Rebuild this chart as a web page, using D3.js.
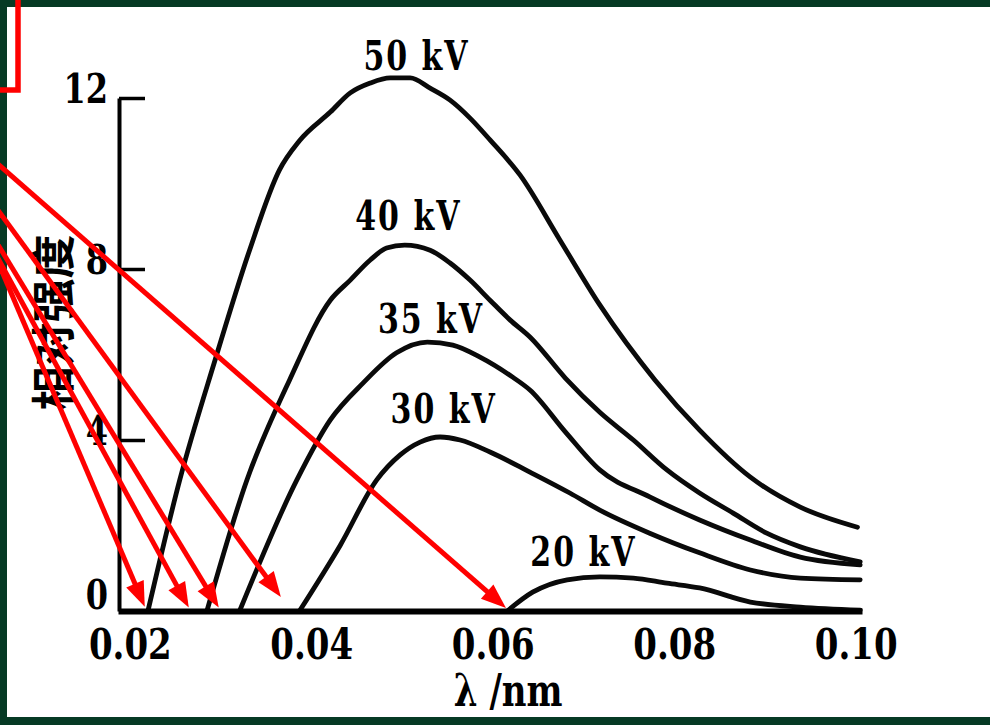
<!DOCTYPE html>
<html><head><meta charset="utf-8">
<script src="https://cdn.jsdelivr.net/npm/d3@7"></script>
<style>html,body{margin:0;padding:0;background:#fff;} svg{display:block;}</style>
</head><body><svg id="chart" width="990" height="725"></svg>
<script>
// ---- data (wavelength in nm, relative intensity) ----
const kvLabels = ["50 kV","40 kV","35 kV","30 kV","20 kV"];
const lam50 = [0.0220,0.0255,0.0294,0.0332,0.0365,0.0387,0.0421,0.0443,0.0465,0.0487,0.0509,0.0531,0.0553,0.0575,0.0597,0.0630,0.0674,0.0718,0.0779,0.0828,0.0884,0.0939,0.1002];
const int50 = [0,3.06,5.87,8.44,10.32,11.00,11.67,12.12,12.35,12.47,12.47,12.23,11.95,11.53,11.02,10.20,8.68,7.16,5.40,4.23,3.13,2.43,1.96];
const lam40 = [0.0285,0.0329,0.0376,0.0421,0.0443,0.0465,0.0483,0.0503,0.0531,0.0553,0.0575,0.0597,0.0619,0.0641,0.0680,0.0718,0.0755,0.0792,0.0828,0.0865,0.0902,0.0939,0.1005];
const int40 = [0,3.06,5.40,7.27,7.74,8.21,8.49,8.56,8.44,8.14,7.74,7.27,6.81,6.41,5.45,4.65,4.00,3.30,2.76,2.29,1.82,1.50,1.15];
const lam35 = [0.0321,0.0384,0.0421,0.0457,0.0494,0.0528,0.0556,0.0586,0.0622,0.0641,0.0680,0.0718,0.0773,0.0828,0.0884,0.0939,0.1005];
const int35 = [0,3.06,4.47,5.33,6.04,6.29,6.22,5.94,5.47,5.17,4.19,3.30,2.67,2.13,1.66,1.26,1.08];
const lam30 = [0.0387,0.0432,0.0472,0.0498,0.0520,0.0542,0.0564,0.0597,0.0641,0.0685,0.0718,0.0773,0.0828,0.0884,0.0939,0.1005];
const int30 = [0,1.54,3.06,3.65,3.95,4.07,4.00,3.72,3.25,2.76,2.36,1.82,1.36,0.96,0.77,0.73];
const lam20 = [0.0616,0.0644,0.0682,0.0718,0.0755,0.0792,0.0828,0.0884,0.0939,0.1005];
const int20 = [0,0.44,0.73,0.80,0.77,0.65,0.54,0.21,0.09,0.02];

const labelLam = [0.0516,0.0507,0.0532,0.0546,0.0700];
const labelInt = [12.66,8.91,6.50,4.40,1.05];

const xTickValues = [0.02,0.04,0.06,0.08,0.10];
const xTickLabels = ["0.02","0.04","0.06","0.08","0.10"];
const yTickValues = [0,4,8,12];
const yTickLabels = ["0","4","8","12"];
const xTitle = "λ /nm";
const yTitle = "相对强度";

// red annotation arrows (data units)
const arrowFromLam = [0.0057,0.0057,0.0057,0.0057,0.0057];
const arrowFromInt = [8.05,8.16,8.49,9.31,10.41];
const arrowToLam = [0.02165,0.0265,0.0298,0.03665,0.06146];
const arrowToInt = [0.10,0.08,0.08,0.33,0.07];

// ---- drawing ----
const svg = d3.select("#chart");
const W = 990, H = 725;
svg.append("rect").attr("width",W).attr("height",H).attr("fill","#fff");

const x = d3.scaleLinear().domain([0.0187,0.1007]).range([118,862]);
const y = d3.scaleLinear().domain([0,12]).range([611,98]);

const series = [
  {name:kvLabels[0], lam:lam50, val:int50},
  {name:kvLabels[1], lam:lam40, val:int40},
  {name:kvLabels[2], lam:lam35, val:int35},
  {name:kvLabels[3], lam:lam30, val:int30},
  {name:kvLabels[4], lam:lam20, val:int20}
];

const line = d3.line().x(d=>x(d[0])).y(d=>y(d[1])).curve(d3.curveMonotoneX);
svg.append("g").selectAll("path").data(series).join("path")
  .attr("d", s => line(s.lam.map((l,i)=>[l,s.val[i]])))
  .attr("fill","none").attr("stroke","#0a0a0a").attr("stroke-width",4.8)
  .attr("stroke-linejoin","round").attr("stroke-linecap","round");

// x axis
const xAxis = d3.axisBottom(x).tickValues(xTickValues)
  .tickFormat((d,i)=>xTickLabels[i]).tickSize(0).tickPadding(13);
const gx = svg.append("g").attr("transform","translate(0,611)").call(xAxis);
gx.select(".domain").attr("stroke","#000").attr("stroke-width",6);
gx.selectAll("text").attr("font-family","'DejaVu Serif', serif").attr("font-size",34)
  .attr("font-weight","bold").attr("fill","#000").attr("transform","scale(1,1.28)");

// y axis
const yAxis = d3.axisLeft(y).tickValues(yTickValues)
  .tickFormat((d,i)=>yTickLabels[i]).tickSizeInner(-26).tickSizeOuter(0).tickPadding(11);
const gy = svg.append("g").attr("transform","translate(119,0)").call(yAxis);
gy.select(".domain").attr("stroke","#000").attr("stroke-width",4);
gy.selectAll(".tick line").attr("stroke","#000").attr("stroke-width",3.5);
gy.selectAll("text").attr("font-family","'DejaVu Serif', serif").attr("font-size",32)
  .attr("font-weight","bold").attr("dy",d=>d===0 ? "-0.05em" : "0.12em")
  .attr("fill","#000").attr("transform","scale(1,1.28)");

// curve labels
svg.append("g").selectAll("text").data(series).join("text")
  .attr("transform",(s,i)=>`translate(${x(labelLam[i])},${y(labelInt[i])}) scale(1,1.35)`)
  .attr("text-anchor","middle").attr("font-family","'DejaVu Serif', serif")
  .attr("font-weight","bold").attr("font-size",30).attr("letter-spacing","2px")
  .attr("fill","#000").text(s=>s.name);

// axis titles
svg.append("text").attr("transform",`translate(${x(0.0617)},706) scale(1,1.3)`)
  .attr("text-anchor","middle").attr("font-family","'DejaVu Serif', serif")
  .attr("font-weight","bold").attr("font-size",34).attr("fill","#000").text(xTitle);
svg.append("text").attr("transform",`translate(70,${y(6.75)}) rotate(-90)`)
  .attr("text-anchor","middle").attr("font-family","'Noto Sans CJK SC', sans-serif")
  .attr("font-weight","bold").attr("font-size",44).attr("fill","#000").text(yTitle);

// green frame
const frame = "#063a24";
svg.append("rect").attr("x",0).attr("y",0).attr("width",W).attr("height",7).attr("fill",frame);
svg.append("rect").attr("x",0).attr("y",0).attr("width",7).attr("height",H).attr("fill",frame);
svg.append("rect").attr("x",0).attr("y",717).attr("width",W).attr("height",8).attr("fill",frame);

// red arrows
const ga = svg.append("g");
arrowFromLam.forEach((l0,i)=>{
  let x0 = x(l0), y0 = y(arrowFromInt[i]);
  const x1 = x(arrowToLam[i]), y1 = y(arrowToInt[i]);
  const dx = x1-x0, dy = y1-y0, len = Math.hypot(dx,dy), ux = dx/len, uy = dy/len;
  x0 -= ux*30; y0 -= uy*30;
  const hl = 25, hw = 9.5;
  const bx = x1-ux*hl, by = y1-uy*hl;
  ga.append("line").attr("x1",x0).attr("y1",y0).attr("x2",bx+ux*2).attr("y2",by+uy*2)
    .attr("stroke","#ff0000").attr("stroke-width",5);
  ga.append("path").attr("d",`M${x1},${y1}L${bx-uy*hw},${by+ux*hw}L${bx+uy*hw},${by-ux*hw}Z`)
    .attr("fill","#ff0000");
});

// red box
svg.append("rect").attr("x",-40).attr("y",-40).attr("width",58).attr("height",130)
  .attr("fill","none").attr("stroke","#ff0000").attr("stroke-width",5.5);
</script></body></html>
